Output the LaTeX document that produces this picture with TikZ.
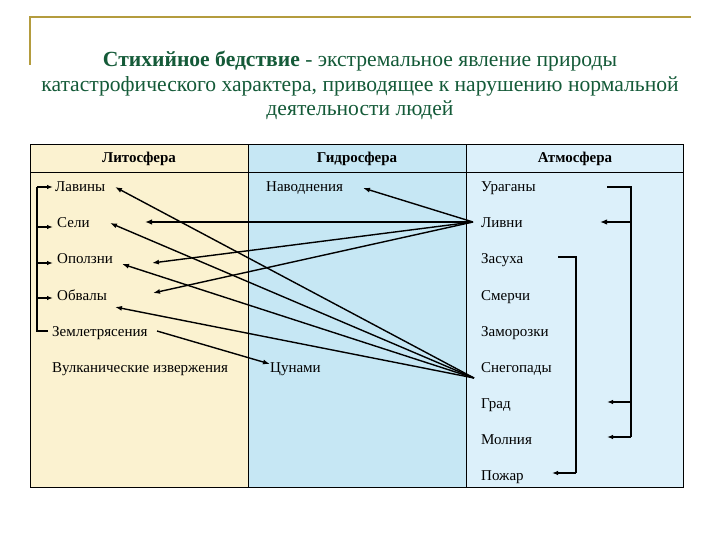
\documentclass[tikz,border=0pt]{standalone}
\usepackage{fontspec}
\setmainfont{Liberation Serif}
\usetikzlibrary{arrows.meta}
\definecolor{gold}{HTML}{B49C3E}
\definecolor{titlegreen}{HTML}{145A38}
\definecolor{litfill}{HTML}{FBF2D0}
\definecolor{hydfill}{HTML}{C6E7F4}
\definecolor{atmfill}{HTML}{DCF0FA}
\tikzset{
  item/.style={anchor=base west, inner sep=0pt, font=\fontsize{15bp}{17bp}\selectfont},
  headtxt/.style={anchor=base, inner sep=0pt, font=\fontsize{15bp}{17bp}\selectfont\bfseries},
  titletxt/.style={anchor=base, inner sep=0pt, text=titlegreen, font=\fontsize{21.6bp}{25bp}\selectfont},
  arr/.style={-{Latex[length=7bp,width=5bp]}, line width=1.4bp},
  thickarr/.style={-{Latex[length=7bp,width=5.5bp]}, line width=2.2bp},
  brk/.style={line width=1.1bp},
  brkarr/.style={-{Latex[length=6bp,width=4.5bp]}, line width=1.3bp},
}
\begin{document}
\begin{tikzpicture}[x=1bp,y=-1bp]
\useasboundingbox (0,0) rectangle (720,540);
% gold frame
\draw[gold, line width=2bp] (30,65) -- (30,17) -- (691,17);
% title
\node[titletxt] (t1) at (360,67) {\textbf{Стихийное бедствие} - экстремальное явление природы};
\node[titletxt] (t2) at (360,92) {катастрофического характера, приводящее к нарушению нормальной};
\node[titletxt] (t3) at (360,116) {деятельности людей};
% table
\fill[litfill] (30,145) rectangle (248,487);
\fill[hydfill] (248,145) rectangle (466,487);
\fill[atmfill] (466,145) rectangle (683,487);
\draw[line width=1bp] (30,145) rectangle (683,487);
\draw[line width=1bp] (248,145) -- (248,487) (466,145) -- (466,487) (30,173) -- (683,173);
% headers
\node[headtxt] (h1) at (139,163) {Литосфера};
\node[headtxt] (h2) at (357,163) {Гидросфера};
\node[headtxt] (h3) at (575,163) {Атмосфера};
% lithosphere
\node[item] (lav) at (55,192) {Лавины};
\node[item] (sel) at (57,228) {Сели};
\node[item] (opo) at (57,264) {Оползни};
\node[item] (obv) at (57,300) {Обвалы};
\node[item] (zem) at (52,336) {Землетрясения};
\node[item] (vul) at (52,372) {Вулканические извержения};
% hydrosphere
\node[item] (nav) at (266,192) {Наводнения};
\node[item] (cun) at (270,372) {Цунами};
% atmosphere
\node[item] (ura) at (481,192) {Ураганы};
\node[item] (liv) at (481,228) {Ливни};
\node[item] (zas) at (481,264) {Засуха};
\node[item] (sme) at (481,300) {Смерчи};
\node[item] (zam) at (481,336) {Заморозки};
\node[item] (sne) at (481,372) {Снегопады};
\node[item] (gra) at (481,408) {Град};
\node[item] (mol) at (481,444) {Молния};
\node[item] (poz) at (481,480) {Пожар};
% hubs and arrow ends
\coordinate (L) at (473,222);
\coordinate (S) at (474,378);
\coordinate (aNav) at (363,188);
\coordinate (aSelL) at (145,222);
\coordinate (aOpoL) at (152,263);
\coordinate (aObvL) at (153,293);
\coordinate (aLavS) at (115,187);
\coordinate (aSelS) at (110,223);
\coordinate (aOpoS) at (122,264);
\coordinate (aObvS) at (115,307);
\coordinate (zemR) at (157,331);
\coordinate (aCun) at (270,364);
% from Ливни
\draw[arr] (L) -- (aNav);
\draw[thickarr] (L) -- (aSelL);
\draw[arr] (L) -- (aOpoL);
\draw[arr] (L) -- (aObvL);
% from Снегопады
\draw[arr] (S) -- (aLavS);
\draw[arr] (S) -- (aSelS);
\draw[arr] (S) -- (aOpoS);
\draw[arr] (S) -- (aObvS);
% earthquake -> tsunami
\draw[arr] (zemR) -- (aCun);
% left bracket
\coordinate (lb0) at (37,187);
\coordinate (lb1) at (37,227);
\coordinate (lb2) at (37,263);
\coordinate (lb3) at (37,298);
\coordinate (lb4) at (37,331);
\draw[brk] (48,331) -- (lb4) -- (lb0);
\draw[brkarr] (lb0) -- (53,187);
\draw[brkarr] (lb1) -- (53,227);
\draw[brkarr] (lb2) -- (53,263);
\draw[brkarr] (lb3) -- (53,298);
% right bracket 1
\coordinate (rb0) at (631,187);
\coordinate (rb1) at (631,222);
\coordinate (rb2) at (631,402);
\coordinate (rb3) at (631,437);
\draw[brk] (607,187) -- (rb0) -- (rb3);
\draw[thickarr] (rb1) -- (600,222);
\draw[brkarr] (rb2) -- (607,402);
\draw[brkarr] (rb3) -- (607,437);
% right bracket 2
\coordinate (qb0) at (576,257);
\coordinate (qb1) at (576,473);
\draw[brk] (558,257) -- (qb0) -- (qb1);
\draw[brkarr] (qb1) -- (552,473);
\end{tikzpicture}
\end{document}
